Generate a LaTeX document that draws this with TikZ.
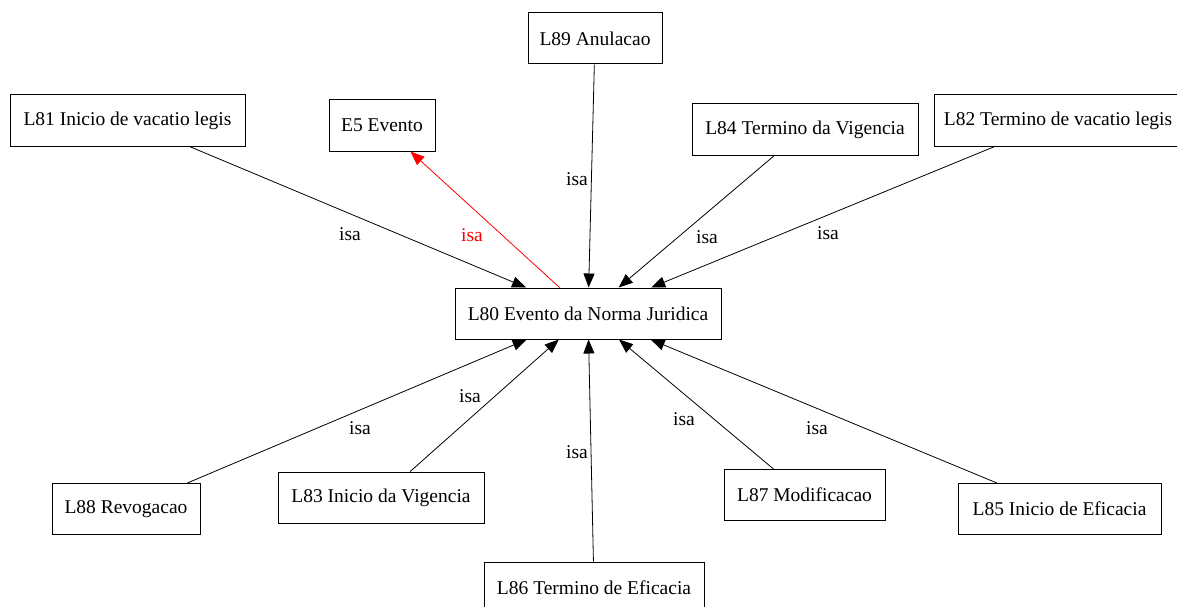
\documentclass[tikz,border=0pt]{standalone}
\usepackage{fontspec}
\setmainfont{Liberation Serif}
\usepackage{tikz}
\usetikzlibrary{arrows.meta, positioning}
\definecolor{isared}{HTML}{FF0000}
\tikzset{
  cbox/.style={draw=black, line width=1pt, rectangle, minimum height=51pt,
               inner xsep=6pt, font=\fontsize{19.5}{22}\selectfont},
  isarr/.style={-{Triangle[length=14pt, width=11pt]}, line width=0.8pt, black},
  isalbl/.style={font=\fontsize{19.5}{22}\selectfont, inner sep=1pt},
}
\begin{document}
\begin{tikzpicture}[x=1pt, y=-1pt]
  \useasboundingbox (0,0) rectangle (1177,607);
  \clip (0,0) rectangle (1177,607);

  % central concept
  \node[cbox, minimum width=266pt] (l80) at (588,313.5) {L80 Evento da Norma Juridica};

  % upper row
  \node[cbox, minimum width=134pt] (l89) at (595,38.5) {L89 Anulacao};
  \node[cbox, minimum width=235pt] (l81) at (127.5,120.5) {L81 Inicio de vacatio legis};
  \node[cbox, minimum width=106pt] (e5) at (382,125.5) {E5 Evento};
  \node[cbox, minimum width=226pt] (l84) at (805,129.5) {L84 Termino da Vigencia};
  \node[cbox, minimum width=248pt] (l82) at (1058,120.5) {L82 Termino de vacatio legis};

  % lower row
  \node[cbox, minimum width=148pt] (l88) at (126,509) {L88 Revogacao};
  \node[cbox, minimum width=206pt] (l83) at (381,497.5) {L83 Inicio da Vigencia};
  \node[cbox, minimum width=220pt] (l86) at (594,587.5) {L86 Termino de Eficacia};
  \node[cbox, minimum width=161pt] (l87) at (804.5,495) {L87 Modificacao};
  \node[cbox, minimum width=203pt] (l85) at (1059.5,509) {L85 Inicio de Eficacia};

  % isa links
  \foreach \src in {l89, l81, l84, l82, l88, l83, l86, l87, l85}{
    \draw[isarr] (\src) -- (l80);
  }
  \draw[isarr, isared] (l80) -- (e5);

  % labels
  \node[isalbl] (i89) at (577,179) {isa};
  \node[isalbl] (i81) at (350,234) {isa};
  \node[isalbl, text=isared] (i5) at (472,235) {isa};
  \node[isalbl] (i84) at (707,237) {isa};
  \node[isalbl] (i82) at (828,233) {isa};
  \node[isalbl] (i88) at (360,428) {isa};
  \node[isalbl] (i83) at (470,396) {isa};
  \node[isalbl] (i86) at (577,452) {isa};
  \node[isalbl] (i87) at (684,419) {isa};
  \node[isalbl] (i85) at (817,428) {isa};
\end{tikzpicture}
\end{document}
